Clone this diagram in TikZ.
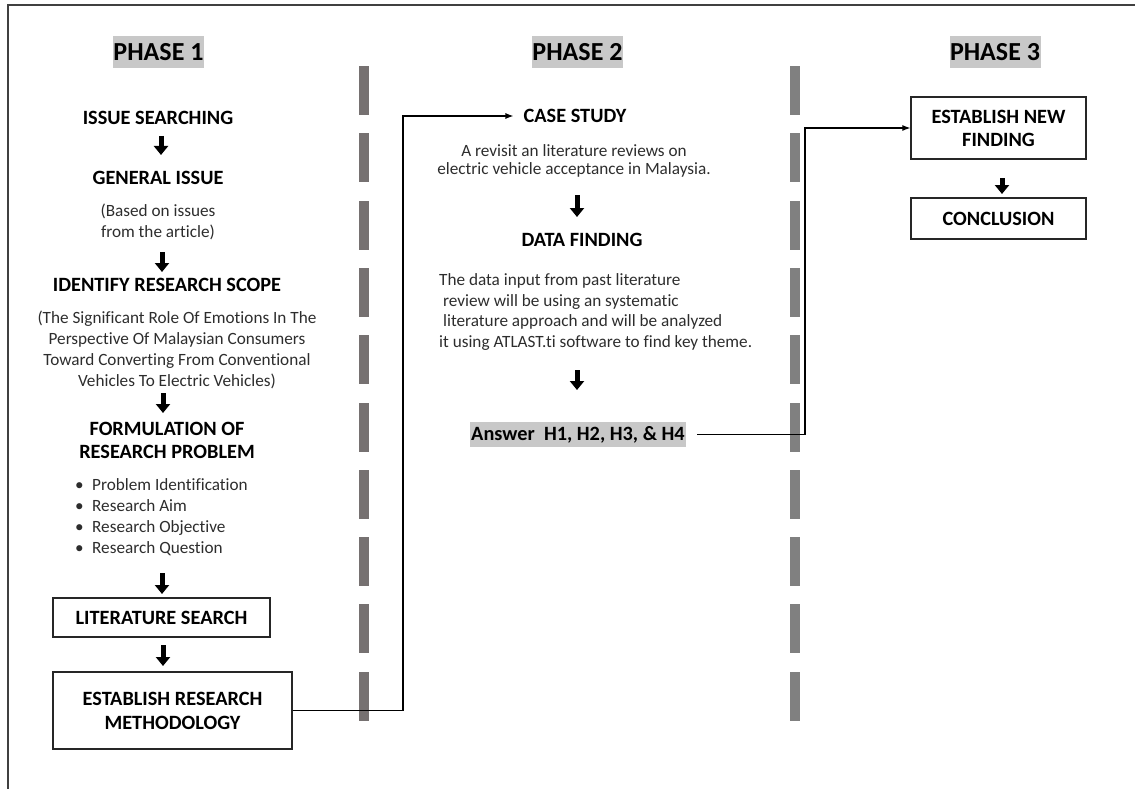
\documentclass[tikz,border=0pt]{standalone}
\usepackage{fontspec}
\setmainfont{Carlito}[Ligatures=NoCommon]
\usetikzlibrary{arrows.meta,calc}
\definecolor{hl}{RGB}{200,200,200}
\definecolor{barA}{RGB}{118,113,113}
\definecolor{barB}{RGB}{128,128,128}
\definecolor{framec}{RGB}{64,64,64}
\definecolor{bodyc}{RGB}{45,45,45}
\begin{document}
\begin{tikzpicture}[x=1pt,y=-1pt,
  phasebox/.style={fill=hl, inner sep=0, minimum width=91, minimum height=32, font=\fontsize{26}{30}\selectfont\bfseries},
  head/.style={inner sep=0, align=center, font=\fontsize{20.3}{23}\selectfont\bfseries},
  body/.style={inner sep=0, align=center, text=bodyc, font=\fontsize{17.2}{21}\selectfont},
  flowbox/.style={draw=black!85, line width=1.3pt, inner sep=0, align=center, font=\fontsize{20.3}{24}\selectfont\bfseries},
  bigarr/.style={line width=5pt, -{Triangle[width=14pt,length=9pt]}},
  conn/.style={line width=1.1pt, -{Latex[length=8pt,width=6pt]}},
  frame/.style={draw=framec, line width=1.5pt},
  ]
\useasboundingbox (0,0) rectangle (1135,789);
% frame
\draw[frame] (8,789) -- (8,5) -- (1135,5);
% dashed separators
\foreach \k in {0,...,9}{
  \fill[barA] (359,{66+67.3*\k}) rectangle (369,{115+67.3*\k});
  \fill[barB] (790,{66+67.3*\k}) rectangle (800,{115+67.3*\k});
}
% phase headers
\node[phasebox] (p1) at (158.5,52) {PHASE 1};
\node[phasebox] (p2) at (577.5,52) {PHASE 2};
\node[phasebox] (p3) at (995,52) {PHASE 3};
% phase 1
\node[head] (is) at (158,118) {ISSUE SEARCHING};
\node[head] (gi) at (158,178) {GENERAL ISSUE};
\node[body] (gid) at (158,222) {(Based on issues\\ from the article)};
\node[head] (irs) at (167,285) {IDENTIFY RESEARCH SCOPE};
\node[body] (irsd) at (177,349.5) {(The Significant Role Of Emotions In The\\Perspective Of Malaysian Consumers\\Toward Converting From Conventional\\Vehicles To Electric Vehicles)};
\node[head, font=\fontsize{20.3}{23.5}\selectfont\bfseries] (frp) at (167,440.5) {FORMULATION OF\\RESEARCH PROBLEM};
\node[body, align=left, anchor=west] (bl) at (75,517.5) {\makebox[17pt][l]{\textbullet}Problem Identification\\\makebox[17pt][l]{\textbullet}Research Aim\\\makebox[17pt][l]{\textbullet}Research Objective\\\makebox[17pt][l]{\textbullet}Research Question};
\node[flowbox, minimum width=217, minimum height=39] (ls) at (161.5,617.5) {LITERATURE SEARCH};
\node[flowbox, minimum width=239, minimum height=77] (erm) at (172.5,710.5) {ESTABLISH RESEARCH\\METHODOLOGY};
% phase 2
\node[head] (cs) at (575,116) {CASE STUDY};
\node[body, font=\fontsize{17.2}{18.5}\selectfont] (csd) at (574,161) {A revisit an literature reviews on\\electric vehicle acceptance in Malaysia.};
\node[head] (df) at (582,240) {DATA FINDING};
\node[body, align=left, anchor=west, font=\fontsize{17.2}{20.7}\selectfont] (dfd) at (439,312) {The data input from past literature\\\hspace*{4pt}review will be using an systematic\\\hspace*{4pt}literature approach and will be analyzed\\it using ATLAST.ti software to find key theme.};
\node[fill=hl, inner sep=0, minimum width=216, minimum height=25, font=\fontsize{20.3}{24}\selectfont\bfseries] (ans) at (578,434.5) {Answer~~H1, H2, H3, \& H4};
% phase 3
\node[flowbox, minimum width=175, minimum height=62, font=\fontsize{20.3}{23}\selectfont\bfseries] (enf) at (998.5,128) {ESTABLISH NEW\\FINDING};
\node[flowbox, minimum width=175, minimum height=41] (con) at (998.5,218.5) {CONCLUSION};
% thick arrows
\draw[bigarr] ($(is)+(3,18)$) -- ++(0,19);
\draw[bigarr] ($(gid)+(4,30)$) -- ++(0,20);
\draw[bigarr] ($(irsd)+(-14,43.5)$) -- ++(0,20);
\draw[bigarr] ($(ls)+(0.5,-44.5)$) -- ++(0,21);
\draw[bigarr] ($(ls)+(1.5,27.5)$) -- ++(0,21);
\draw[bigarr] ($(csd)+(3,34)$) -- ++(0,22);
\draw[bigarr] ($(ans)+(-1,-64.5)$) -- ++(0,20);
\draw[bigarr] ($(enf)+(3.5,50)$) -- ++(0,16);
% connectors
\coordinate (j1) at (403,116);
\coordinate (j2) at (805,128);
\draw[conn] (erm.east) -| (j1) -- ([xshift=-10pt]cs.west);
\draw[conn] ([xshift=11pt]ans.east) -| (j2) -- (enf.west);
\end{tikzpicture}
\end{document}
